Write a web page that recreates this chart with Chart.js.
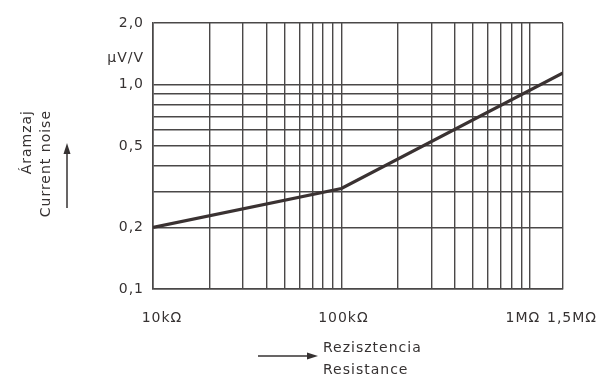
<!DOCTYPE html>
<html>
<head>
<meta charset="utf-8">
<script src="https://cdn.jsdelivr.net/npm/chart.js@4.4.1/dist/chart.umd.min.js"></script>
<style>
  html, body { margin: 0; padding: 0; background: #fff; }
</style>
</head>
<body>
<canvas id="chart" width="603" height="382"></canvas>
<script>
// data (resistance in ohm, noise in uV/V)
const resistance = [10000, 100000, 1500000];
const noise = [0.2, 0.31, 1.14];

// grid / tick positions
const xTicks = [10000, 20000, 30000, 40000, 50000, 60000, 70000, 80000, 90000,
                100000, 200000, 300000, 400000, 500000, 600000, 700000, 800000, 900000,
                1000000, 1500000];
const xLabels = { 10000: '10kΩ', 100000: '100kΩ', 1000000: '1MΩ', 1500000: '1,5MΩ' };
// small sideways nudge of the x labels as in the drawing
const xLabelShift = { 10000: 9, 100000: 2, 1000000: -7, 1500000: 9 };
const yTicks = [0.1, 0.2, 0.3, 0.4, 0.5, 0.6, 0.7, 0.8, 0.9, 1.0, 2.0];
const yLabels = { 0.1: '0,1', 0.2: '0,2', 0.5: '0,5', 1: '1,0', 2: '2,0' };

const INK = '#363232';
const GRID = '#4a4848';
const FONT = 'DejaVu Sans';

const lettering = {
    id: 'lettering',
    beforeDraw(chart) {
        // technical lettering is wide, give all text some spacing
        chart.ctx.letterSpacing = '1px';
    },
    afterDraw(chart) {
        const ctx = chart.ctx;
        const xs = chart.scales.x;
        ctx.save();
        ctx.letterSpacing = '1px';
        ctx.fillStyle = INK;
        ctx.strokeStyle = INK;
        ctx.font = '14px "' + FONT + '"';
        ctx.textBaseline = 'middle';

        // x tick labels
        ctx.textAlign = 'center';
        xTicks.forEach(v => {
            if (xLabels[v]) ctx.fillText(xLabels[v], xs.getPixelForValue(v) + xLabelShift[v], 318);
        });

        // unit under the top tick
        ctx.textAlign = 'right';
        ctx.fillText('µV/V', 144, 58);

        // rotated y title
        ctx.save();
        ctx.translate(27, 110);
        ctx.rotate(-Math.PI / 2);
        ctx.textAlign = 'right';
        ctx.fillText('Áramzaj', 0, 0);
        ctx.restore();
        ctx.save();
        ctx.translate(46, 110);
        ctx.rotate(-Math.PI / 2);
        ctx.textAlign = 'right';
        ctx.fillText('Current noise', 0, 0);
        ctx.restore();

        // up arrow
        ctx.lineWidth = 1.5;
        ctx.beginPath();
        ctx.moveTo(67, 208);
        ctx.lineTo(67, 150);
        ctx.stroke();
        ctx.beginPath();
        ctx.moveTo(67, 143);
        ctx.lineTo(63.5, 154);
        ctx.lineTo(70.5, 154);
        ctx.closePath();
        ctx.fill();

        // right arrow + x title
        ctx.beginPath();
        ctx.moveTo(258, 356);
        ctx.lineTo(310, 356);
        ctx.stroke();
        ctx.beginPath();
        ctx.moveTo(318, 356);
        ctx.lineTo(307, 352.5);
        ctx.lineTo(307, 359.5);
        ctx.closePath();
        ctx.fill();

        ctx.textAlign = 'left';
        ctx.fillText('Rezisztencia', 323, 348);
        ctx.fillText('Resistance', 323, 370);
        ctx.restore();
    }
};

new Chart(document.getElementById('chart'), {
    type: 'scatter',
    data: {
        datasets: [{
            data: resistance.map((r, i) => ({ x: r, y: noise[i] })),
            showLine: true,
            borderColor: '#3a3232',
            borderWidth: 3.2,
            pointRadius: 0,
            tension: 0
        }]
    },
    options: {
        responsive: false,
        animation: false,
        devicePixelRatio: 1,
        layout: { padding: { left: 103, right: 40, top: 23, bottom: 43 } },
        plugins: { legend: { display: false }, tooltip: { enabled: false } },
        scales: {
            x: {
                type: 'logarithmic',
                min: 10000,
                max: 1500000,
                afterBuildTicks: s => { s.ticks = xTicks.map(v => ({ value: v })); },
                afterFit: s => { s.height = 50; },
                ticks: {
                    autoSkip: false,
                    maxRotation: 0,
                    callback: () => ''
                },
                grid: { color: GRID, lineWidth: 1.4, drawTicks: false },
                border: { color: GRID, width: 1.6 }
            },
            y: {
                type: 'logarithmic',
                min: 0.1,
                max: 2.0,
                afterBuildTicks: s => { s.ticks = yTicks.map(v => ({ value: v })); },
                afterFit: s => { s.width = 50; },
                ticks: {
                    autoSkip: false,
                    padding: 9,
                    color: INK,
                    font: { family: FONT, size: 14 },
                    callback: v => yLabels[v] || ''
                },
                grid: { color: GRID, lineWidth: 1.4, drawTicks: false },
                border: { color: GRID, width: 1.6 }
            }
        }
    },
    plugins: [lettering]
});
</script>
</body>
</html>
